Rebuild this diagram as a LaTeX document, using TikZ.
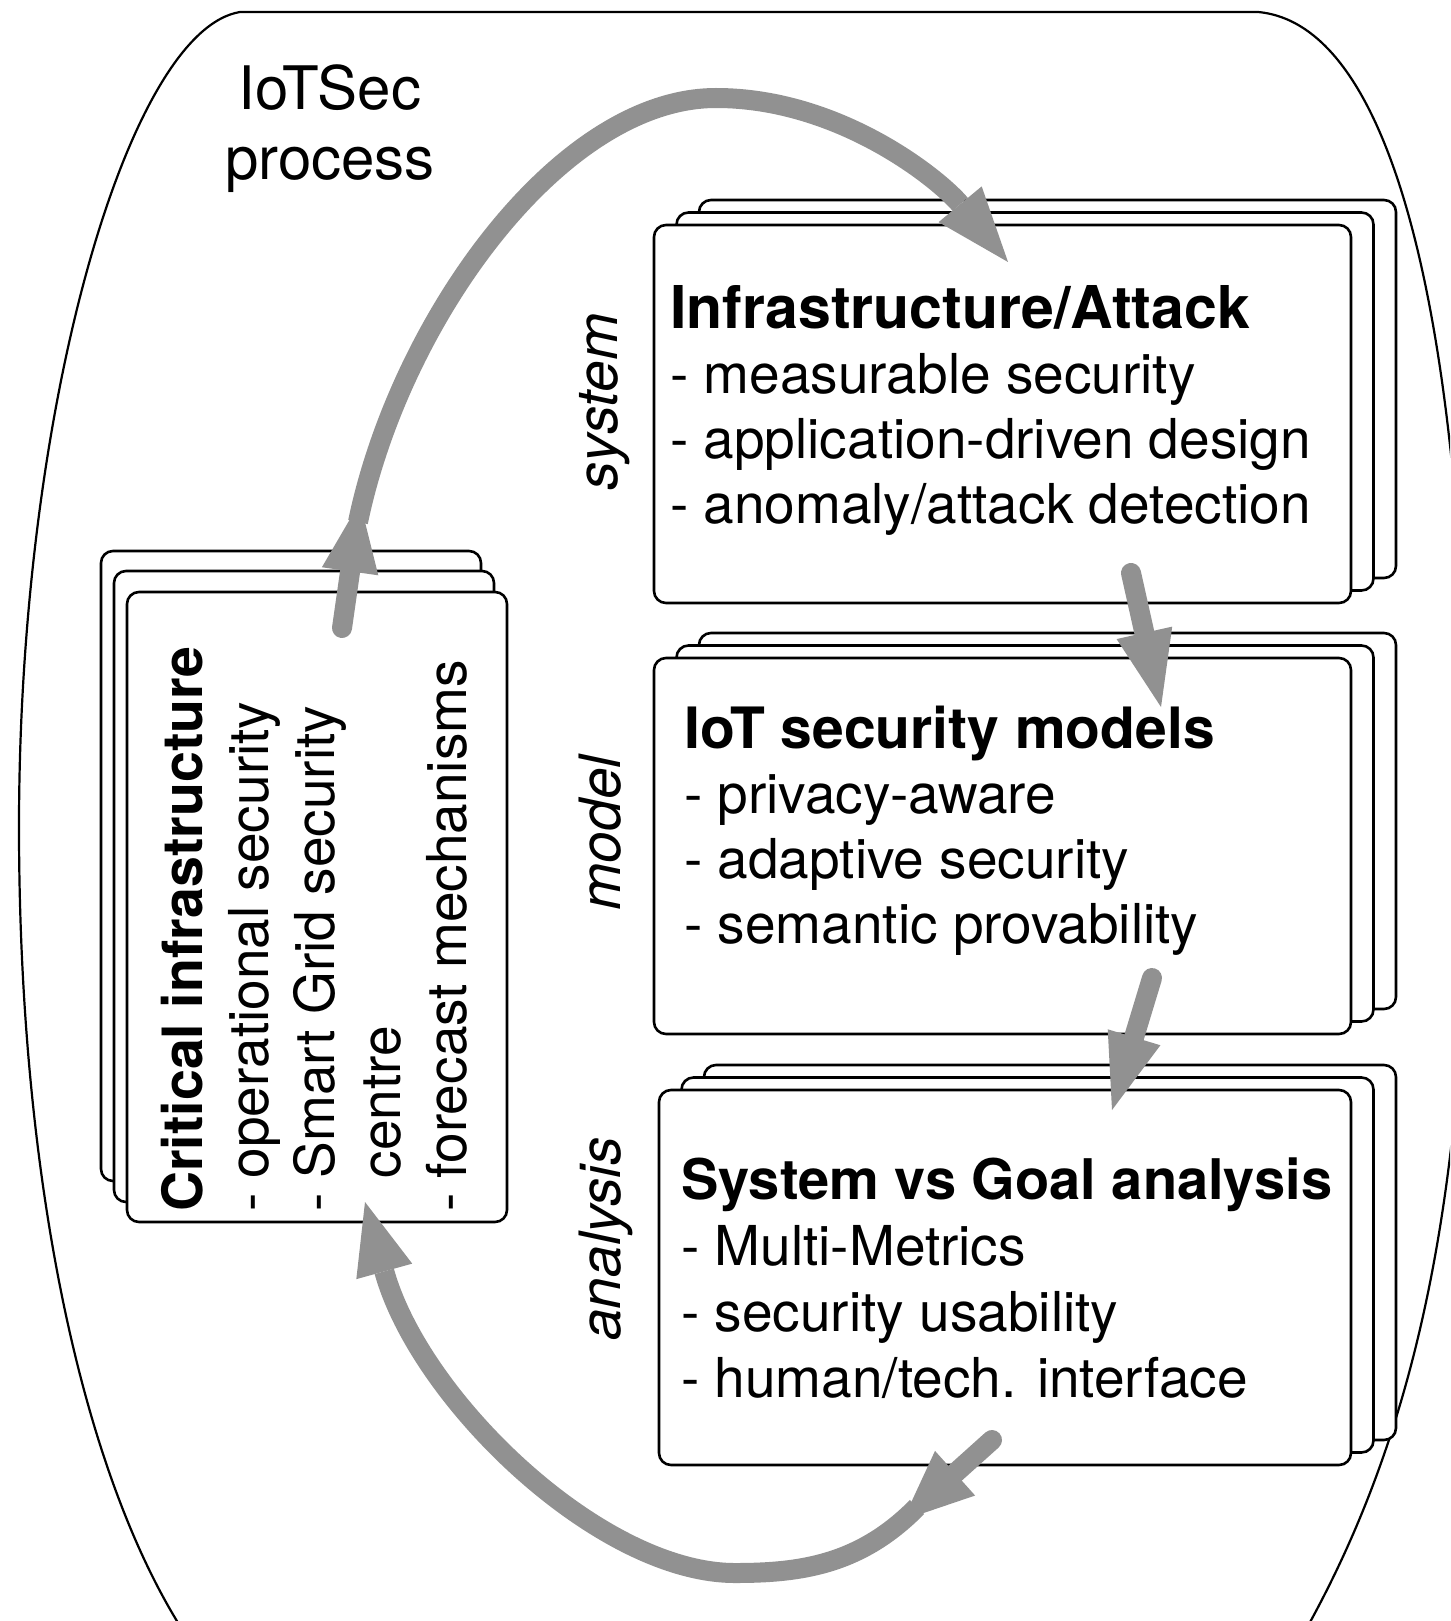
\documentclass[tikz,border=0pt]{standalone}
\usepackage{fontspec}
\setmainfont{TeX Gyre Heros}
\usetikzlibrary{arrows.meta}
\definecolor{arrowgray}{RGB}{145,145,145}
\newcommand\bxtitle{\fontsize{57}{65}\selectfont\bfseries}
\tikzset{
  sheet/.style={draw=black, line width=2.6pt, fill=white, rounded corners=12pt, inner sep=0pt},
  outline/.style={draw=black, line width=2.2pt},
  flow/.style={draw=arrowgray, fill=arrowgray, line width=20pt, line cap=round},
  arc flow/.style={draw=arrowgray, fill=none, line width=20pt, line cap=butt},
  bodytext/.style={inner sep=0pt, anchor=base west, font=\fontsize{55}{65}\selectfont},
  sidelabel/.style={inner sep=0pt, rotate=90, anchor=base, font=\fontsize{57}{60}\selectfont\itshape},
}
\begin{document}
\begin{tikzpicture}[x=1pt,y=-1pt]
\useasboundingbox (0,0) rectangle (1450,1621);
\clip (0,0) rectangle (1450,1621);
\fill[white] (0,0) rectangle (1450,1621);

% outer process boundary
\draw[outline] (240,12) -- (1258,12)
  .. controls (1400,25) and (1468,350) .. (1468,820)
  .. controls (1468,1250) and (1400,1500) .. (1250,1720)
  -- (260,1720)
  .. controls (110,1600) and (19,1250) .. (19,827)
  .. controls (19,400) and (130,30) .. (240,12) -- cycle;

% title
\node[inner sep=0pt, anchor=base, font=\fontsize{60}{70}\selectfont] (title) at (330,110)
  {\vtop{\baselineskip=70pt\hbox to 300pt{\hss IoTSec\hss}\hbox to 300pt{\hss process\hss}}};

% box 1 : Infrastructure/Attack
\node[sheet, minimum width=697pt, minimum height=378pt] (inf3) at (1047.5,389) {};
\node[sheet, minimum width=697pt, minimum height=378pt] (inf2) at (1025,401.5) {};
\node[sheet, minimum width=697pt, minimum height=378pt] (inf) at (1002.5,414) {};
\node[bodytext] (inftext) at (670,328) {\vtop{\baselineskip=65pt
  \hbox{\fontsize{59}{65}\selectfont\bfseries Infrastructure/Attack}
  \hbox{- measurable security}
  \hbox{- application-driven design}
  \hbox{- anomaly/attack detection}}};

% box 2 : IoT security models
\node[sheet, minimum width=697pt, minimum height=376pt] (mod3) at (1047.5,821) {};
\node[sheet, minimum width=697pt, minimum height=376pt] (mod2) at (1025,833.5) {};
\node[sheet, minimum width=697pt, minimum height=376pt] (mod) at (1002.5,846) {};
\node[bodytext] (modtext) at (684,748) {\vtop{\baselineskip=65pt
  \hbox{\bxtitle IoT security models}
  \hbox{- privacy-aware}
  \hbox{- adaptive security}
  \hbox{- semantic provability}}};

% box 3 : System vs Goal analysis
\node[sheet, minimum width=692pt, minimum height=375pt] (ana3) at (1050,1252.5) {};
\node[sheet, minimum width=692pt, minimum height=375pt] (ana2) at (1027.5,1265) {};
\node[sheet, minimum width=692pt, minimum height=375pt] (ana) at (1005,1277.5) {};
\node[bodytext] (anatext) at (681,1199) {\vtop{\baselineskip=66pt
  \hbox{\fontsize{56}{65}\selectfont\bfseries System vs Goal analysis}
  \hbox{- Multi-Metrics}
  \hbox{- security usability}
  \hbox{- human/tech. interface}}};

% left box : Critical infrastructure
\node[sheet, minimum width=380pt, minimum height=630pt] (ci3) at (291,866) {};
\node[sheet, minimum width=380pt, minimum height=631pt] (ci2) at (304,886.5) {};
\node[sheet, minimum width=380pt, minimum height=630pt] (ci) at (317,907) {};
\node[bodytext, rotate=90] (citext) at (202,1212) {\vtop{\baselineskip=66pt
  \hbox{\fontsize{55.5}{65}\selectfont\bfseries Critical infrastructure}
  \hbox{- operational security}
  \hbox{- Smart Grid security}
  \hbox{\phantom{- }centre}
  \hbox{- forecast mechanisms}}};

% side labels
\node[sidelabel] (lsystem) at (617,402) {system};
\node[sidelabel] (lmodel) at (620,833) {model};
\node[sidelabel] (lanalysis) at (620,1239) {analysis};

% connector end points
\coordinate (ciTop) at (342,628);
\coordinate (ciTopTip) at (360,502);
\coordinate (ciArcStart) at (358,522);
\coordinate (peak) at (716,98);
\coordinate (infIn) at (1008,262);
\coordinate (infOut) at (1131,573);
\coordinate (modIn) at (1161,707);
\coordinate (modOut) at (1152,978);
\coordinate (anaIn) at (1112,1110);
\coordinate (anaOut) at (992,1440);
\coordinate (anaTip) at (903,1520);
\coordinate (anaArcStart) at (917,1507);
\coordinate (trough) at (735,1573);
\coordinate (ciIn) at (365,1202);

% connectors
\draw[flow, -{Triangle[length=70pt,width=57pt,line width=0pt]}] (ciTop) -- (ciTopTip);
\draw[arc flow, -{Triangle[length=75pt,width=56pt,line width=0pt]}] (ciArcStart)
  .. controls (400,320) and (560,98) .. (peak)
  .. controls (840,98) and (940,180) .. (infIn);
\draw[flow, -{Triangle[length=76pt,width=57pt,line width=0pt]}] (infOut) -- (modIn);
\draw[flow, -{Triangle[length=76pt,width=55pt,line width=0pt]}] (modOut) -- (anaIn);
\draw[flow, -{Triangle[length=70pt,width=60pt,line width=0pt]}] (anaOut) -- (anaTip);
\draw[arc flow, -{Triangle[length=72pt,width=58pt,line width=0pt]}] (anaArcStart)
  .. controls (860,1565) and (800,1573) .. (trough)
  .. controls (600,1573) and (420,1400) .. (ciIn);
\end{tikzpicture}
\end{document}
